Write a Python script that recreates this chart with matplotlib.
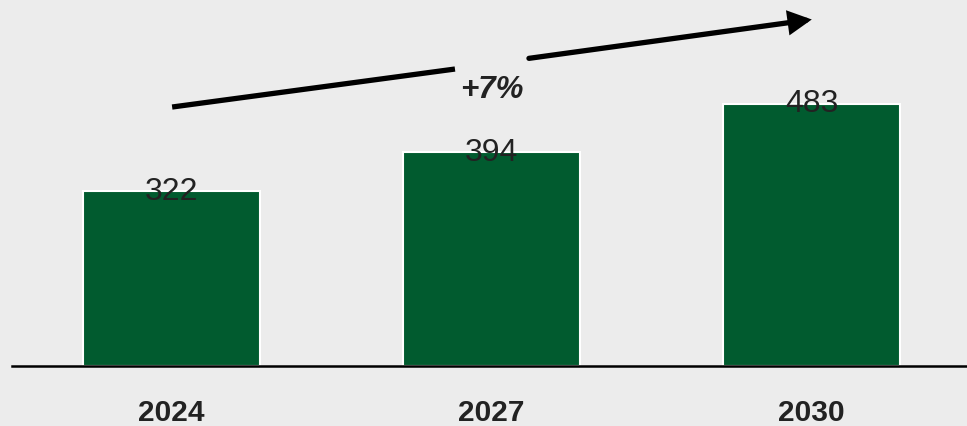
import matplotlib.pyplot as plt

# market size by year
years = ['2024', '2027', '2030']
values = [322, 394, 483]
cagr_label = '+7%'

bg = '#ececec'
bar_color = '#015b2f'
text_color = '#222222'

plt.rcParams['font.family'] = ['Liberation Sans', 'DejaVu Sans']

fig = plt.figure(figsize=(9.67, 4.27), dpi=100, facecolor=bg)
ax = fig.add_axes([0, 0, 1, 1])
ax.set_facecolor(bg)

x = list(range(len(years)))
bars = ax.bar(x, values, width=0.553, color=bar_color, edgecolor='white', linewidth=1.5, zorder=2)

ax.set_xlim(-0.536, 2.486)
ax.set_ylim(-110.5, 676)

# baseline
ax.axhline(0, xmin=0.0124, xmax=1, color='black', linewidth=1.8, zorder=3)

# value labels sit on the bar tops
for xi, v in zip(x, values):
    ax.text(xi, v + 1, str(v), ha='center', va='center', fontsize=23, color=text_color, zorder=4)

# year labels under the baseline
for xi, yr in zip(x, years):
    ax.text(xi, -85, yr, ha='center', va='center', fontsize=21.5, fontweight='bold', color=text_color)

# growth arrow, broken around the label
ax.plot([0.178, 0.4705], [0.747, 0.836], transform=ax.transAxes, color='black',
        linewidth=3.8, solid_capstyle='butt')
ax.annotate('', xy=(0.8395, 0.952), xytext=(0.547, 0.861),
            xycoords='axes fraction', textcoords='axes fraction',
            arrowprops=dict(arrowstyle='-|>,head_length=1.15,head_width=0.6', color='black',
                            linewidth=3.8, shrinkA=0, shrinkB=0, joinstyle='miter'))
ax.text(0.509, 0.79, cagr_label, transform=ax.transAxes, ha='center', va='center',
        fontsize=22.5, fontweight='bold', fontstyle='italic', color=text_color)

ax.axis('off')
fig.savefig('out.png', dpi=100, facecolor=bg)
